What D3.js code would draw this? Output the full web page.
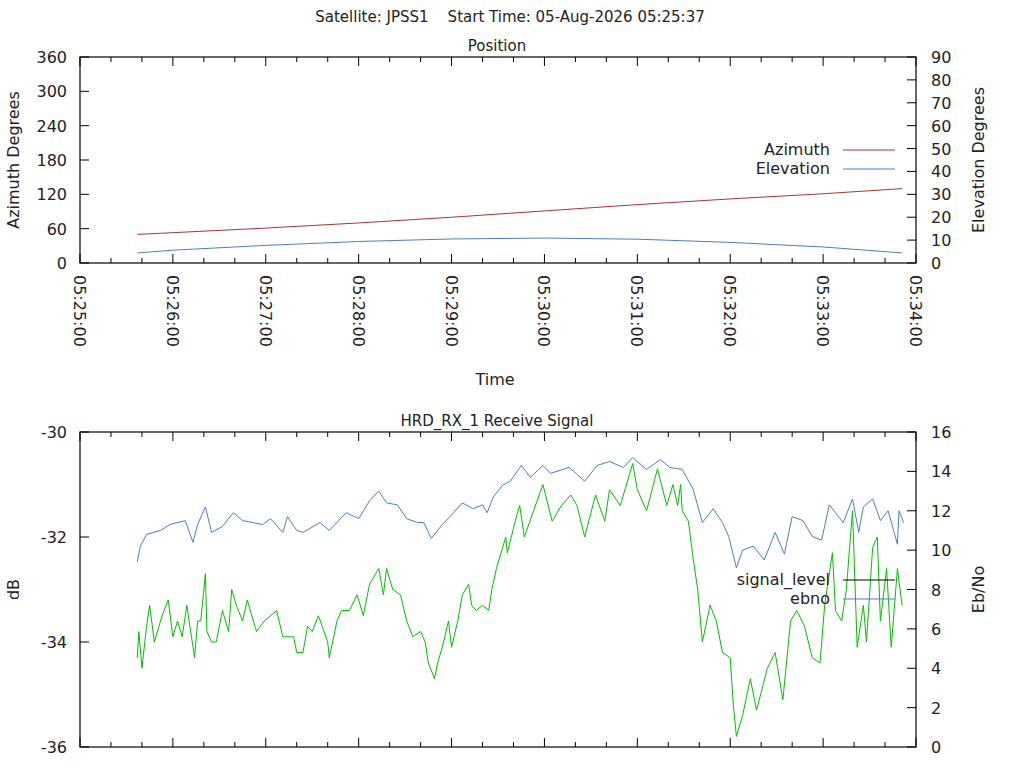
<!DOCTYPE html>
<html>
<head>
<meta charset="utf-8">
<script src="https://cdn.jsdelivr.net/npm/d3@7"></script>
<style>
  body { margin: 0; background: #fff; }
  text { font-family: "DejaVu Sans", sans-serif; fill: #222; }
</style>
</head>
<body>
<script>
// times are seconds after 05:25:00
var posTimes = [37, 60, 120, 180, 240, 300, 360, 420, 480, 531]
var azimuth = [50, 53, 61, 70, 80, 91, 102, 112, 121, 130]
var elevation = [4.4, 5.6, 7.7, 9.4, 10.5, 10.9, 10.4, 9.0, 7.0, 4.4]

var ebnoTimes = [37, 39, 43, 52, 58, 68, 73, 76, 81, 85, 92, 99, 105, 118, 123, 131, 134, 140, 144, 155,
  161, 167, 172, 180, 187, 193, 198, 205, 211, 218, 222, 227, 234, 239, 247, 254, 260, 263, 267, 273, 278,
  285, 291, 299, 304, 316, 326, 334, 342, 351, 357, 366, 375, 381, 389, 396, 402, 409, 415, 419, 424,
  428, 435, 442, 449, 455, 460, 467, 473, 479, 484, 493, 499, 503, 506, 512, 517, 522, 528, 529, 532]
var ebno = [9.4, 10.2, 10.8, 11.0, 11.3, 11.5, 10.4, 11.3, 12.2, 10.9, 11.2, 11.9, 11.5, 11.3, 11.6, 10.9, 11.7, 11.0, 10.9, 11.4,
  11.0, 11.5, 11.9, 11.6, 12.5, 13.0, 12.4, 12.3, 11.6, 11.4, 11.4, 10.6, 11.3, 11.7, 12.4, 12.1, 12.3, 11.9, 12.7, 13.3, 13.5,
  14.3, 13.7, 14.3, 13.9, 14.2, 13.5, 14.3, 14.5, 14.2, 14.7, 14.1, 14.6, 14.2, 14.1, 13.1, 11.4, 12.1, 11.4, 10.7, 9.1,
  10.0, 10.2, 9.5, 10.9, 9.8, 11.7, 11.5, 10.7, 10.5, 12.3, 11.4, 12.6, 10.9, 12.2, 12.6, 11.5, 12.0, 10.3, 12.0, 11.4]

var sigTimes = [37, 38, 40, 43, 45, 48, 53, 57, 60, 63, 66, 69, 74, 76, 78, 81, 82, 85, 88, 92,
  96, 98, 101, 105, 108, 114, 119, 127, 131, 138, 140, 144, 147, 150, 154, 160, 161, 166, 169, 174,
  179, 183, 187, 193, 196, 198, 202, 207, 211, 215, 220, 223, 225, 229, 231, 234, 238, 240, 244, 247,
  251, 253, 256, 260, 264, 266, 269, 275, 276, 282,
  284, 287, 293, 299, 305, 311, 317, 321, 326, 333, 339, 342, 349, 357, 360, 366, 373, 379, 383, 386,
  388, 389, 393, 396, 399, 402, 407, 411, 415, 420, 422, 424, 428, 433, 437, 444, 449, 454, 459, 463,
  468, 473, 478, 481, 486, 488, 492, 495, 499, 502, 506, 508, 512, 515, 517, 521, 524, 528, 531]
var signalLevel = [-34.3, -33.8, -34.5, -33.7, -33.3, -34.0, -33.5, -33.2, -33.9, -33.6, -33.9, -33.3, -34.3, -33.6, -33.6, -32.7, -33.8, -34.0, -34.0, -33.4,
  -33.8, -33.0, -33.3, -33.6, -33.2, -33.8, -33.6, -33.4, -33.9, -33.9, -34.2, -34.2, -33.7, -33.8, -33.5, -34.0, -34.3, -33.6, -33.4, -33.4,
  -33.1, -33.5, -32.9, -32.6, -33.1, -32.6, -33.0, -33.1, -33.6, -33.9, -33.8, -34.0, -34.4, -34.7, -34.4, -34.1, -33.6, -34.1, -33.6, -33.1,
  -32.9, -33.3, -33.4, -33.3, -33.4, -33.0, -32.6, -32.0, -32.3, -31.6,
  -31.4, -32.0, -31.5, -31.0, -31.7, -31.4, -31.2, -31.4, -32.0, -31.2, -31.7, -31.1, -31.4, -30.6, -31.1, -31.5, -30.7, -31.4, -31.0, -31.4,
  -31.0, -31.5, -31.7, -32.4, -33.0, -34.0, -33.3, -33.6, -34.2, -34.3, -35.2, -35.8, -35.4, -34.7, -35.3, -34.5, -34.2, -35.1, -33.6, -33.4,
  -33.7, -34.3, -34.4, -33.3, -32.3, -33.4, -33.6, -33.0, -31.5, -34.1, -33.3, -34.0, -32.2, -32.0, -33.6, -32.6, -34.1, -32.6, -33.3]

var azTicks = [0, 60, 120, 180, 240, 300, 360]
var elTicks = [0, 10, 20, 30, 40, 50, 60, 70, 80, 90]
var dbTicks = [-36, -34, -32, -30]
var ebTicks = [0, 2, 4, 6, 8, 10, 12, 14, 16]

var RED = '#b33030', BLUE = '#4a7fbf', GREEN = '#00c000'
var t0 = new Date(2026, 7, 5, 5, 25, 0)
var toDate = function (s) { return new Date(t0.getTime() + s * 1000) }

var svg = d3.select('body').append('svg').attr('width', 1024).attr('height', 768)
var left = 80, right = 916

var x = d3.scaleTime().domain([t0, toDate(540)]).range([left, right])
var majorT = d3.range(0, 541, 60).map(toDate)
var minorT = d3.range(0, 541, 20).map(toDate)

svg.append('text').attr('x', 510).attr('y', 22).attr('text-anchor', 'middle')
  .style('font-size', '15px').attr('xml:space', 'preserve')
  .text('Satellite: JPSS1    Start Time: 05-Aug-2026 05:25:37')

function panel(top, bottom, title, yl, yr, tl, tr, labL, labR) {
  var g = svg.append('g')
  g.append('rect').attr('x', left).attr('y', top).attr('width', right - left).attr('height', bottom - top)
    .attr('fill', 'none').attr('stroke', '#000').attr('stroke-width', 1.2)
  g.append('text').attr('x', 497).attr('y', top - 6).attr('text-anchor', 'middle').style('font-size', '15px').text(title)
  // x ticks, mirrored
  minorT.forEach(function (d) {
    var len = majorT.some(function (m) { return +m === +d }) ? 9 : 5
    g.append('line').attr('x1', x(d)).attr('x2', x(d)).attr('y1', bottom).attr('y2', bottom - len).attr('stroke', '#000')
    g.append('line').attr('x1', x(d)).attr('x2', x(d)).attr('y1', top).attr('y2', top + len).attr('stroke', '#000')
  })
  tl.forEach(function (v) {
    g.append('line').attr('x1', left).attr('x2', left + 9).attr('y1', yl(v)).attr('y2', yl(v)).attr('stroke', '#000')
    g.append('text').attr('x', 67).attr('y', yl(v) + 6).attr('text-anchor', 'end').style('font-size', '16px').text(v)
  })
  tr.forEach(function (v) {
    g.append('line').attr('x1', right).attr('x2', right - 9).attr('y1', yr(v)).attr('y2', yr(v)).attr('stroke', '#000')
    g.append('text').attr('x', 931).attr('y', yr(v) + 6).style('font-size', '16px').text(v)
  })
  var mid = (top + bottom) / 2
  g.append('text').attr('transform', 'translate(19,' + mid + ') rotate(-90)').attr('text-anchor', 'middle')
    .style('font-size', '16px').text(labL)
  g.append('text').attr('transform', 'translate(984,' + mid + ') rotate(-90)').attr('text-anchor', 'middle')
    .style('font-size', '16px').text(labR)
  return g
}

function drawLine(g, times, vals, y, color) {
  var line = d3.line().x(function (d, i) { return x(toDate(times[i])) }).y(function (d) { return y(d) })
  g.append('path').datum(vals).attr('d', line).attr('fill', 'none').attr('stroke', color).attr('stroke-width', 1)
}

function legend(g, items, yStart) {
  items.forEach(function (it, i) {
    var yy = yStart + i * 19
    g.append('text').attr('x', 830).attr('y', yy + 5).attr('text-anchor', 'end').style('font-size', '16px').text(it[0])
    g.append('line').attr('x1', 843).attr('x2', 895).attr('y1', yy).attr('y2', yy).attr('stroke', it[1])
  })
}

// Position panel
var yAz = d3.scaleLinear().domain([0, 360]).range([263, 57])
var yEl = d3.scaleLinear().domain([0, 90]).range([263, 57])
var p1 = panel(57, 263, 'Position', yAz, yEl, azTicks, elTicks, 'Azimuth Degrees', 'Elevation Degrees')
drawLine(p1, posTimes, azimuth, yAz, RED)
drawLine(p1, posTimes, elevation, yEl, BLUE)
legend(p1, [['Azimuth', RED], ['Elevation', BLUE]], 150)
majorT.forEach(function (d) {
  p1.append('text').attr('transform', 'translate(' + (x(d) - 6) + ',275) rotate(90)')
    .style('font-size', '16px').text(d3.timeFormat('%H:%M:%S')(d))
})
p1.append('text').attr('x', 495).attr('y', 385).attr('text-anchor', 'middle').style('font-size', '16px').text('Time')

// Receive signal panel
var yDb = d3.scaleLinear().domain([-36, -30]).range([747, 432])
var yEb = d3.scaleLinear().domain([0, 16]).range([747, 432])
var p2 = panel(432, 747, 'HRD_RX_1 Receive Signal', yDb, yEb, dbTicks, ebTicks, 'dB', 'Eb/No')
drawLine(p2, ebnoTimes, ebno, yEb, BLUE)
drawLine(p2, sigTimes, signalLevel, yDb, GREEN)
legend(p2, [['signal_level', '#000'], ['ebno', BLUE]], 580)
</script>
</body>
</html>
